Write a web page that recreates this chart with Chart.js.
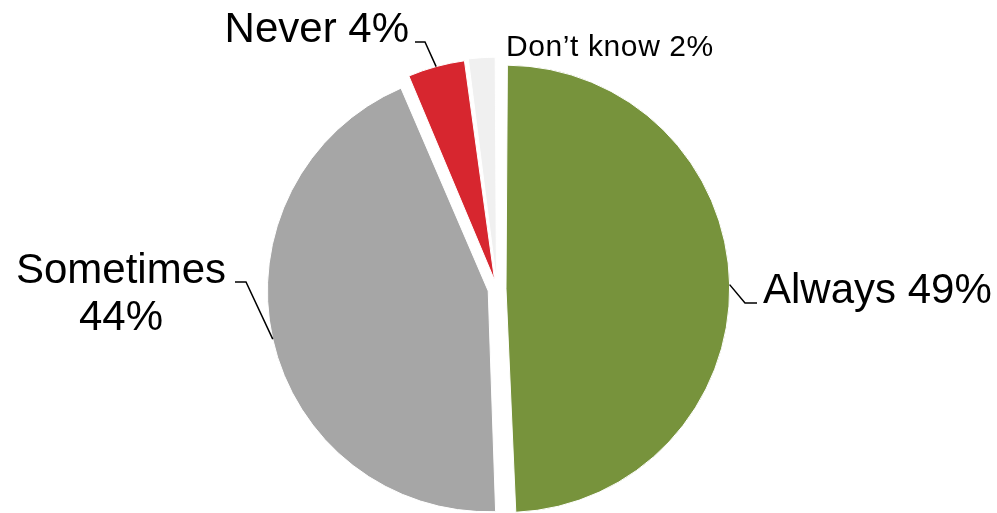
<!DOCTYPE html>
<html>
<head>
<meta charset="utf-8">
<script src="https://cdn.jsdelivr.net/npm/chart.js@4.4.1/dist/chart.umd.min.js"></script>
<style>
  body { margin: 0; background: #fff; }
  #wrap { width: 997px; height: 513px; }
</style>
</head>
<body>
<div id="wrap"><canvas id="chart" width="997" height="513"></canvas></div>
<script>
var categories = ["Always", "Sometimes", "Never", "Don\u2019t know"];
var shares = [49.4, 44.2, 4.3, 2.1];
var sliceColors = ["#77933C", "#A6A6A6", "#D7262F", "#F0F0F0"];

// where each label goes, plus the bend of its leader line
var labelSpots = [
  { x: 763, y: 303, align: "left", size: 42, elbow: [745, 303], end: 757 },
  { x: 121, y: 283, align: "center", size: 42, elbow: [246, 282], end: 235, wrap: true },
  { x: 409, y: 42, align: "right", size: 42, elbow: [425, 42], end: 415 },
  { x: 506, y: 56, align: "left", size: 30, spacing: "0.6px" }
];

var pieLabels = {
  id: "pieLabels",
  afterDatasetsDraw: function (chart) {
    var ctx = chart.ctx;
    var arcs = chart.getDatasetMeta(0).data;
    ctx.save();
    ctx.fillStyle = "#000";
    ctx.strokeStyle = "#000";
    ctx.lineWidth = 1.5;
    arcs.forEach(function (arc, i) {
      var spot = labelSpots[i];
      var p = arc.getProps(["x", "y", "startAngle", "endAngle", "outerRadius", "circumference"], true);
      var mid = (p.startAngle + p.endAngle) / 2;
      var shift = (arc.options.offset || 0) / 4;
      var fix = 1 - Math.sin(Math.min(Math.PI, p.circumference));
      var r = shift + p.outerRadius + shift * fix;
      var ax = p.x + Math.cos(mid) * r;
      var ay = p.y + Math.sin(mid) * r;
      if (spot.elbow) {
        ctx.beginPath();
        ctx.moveTo(ax, ay);
        ctx.lineTo(spot.elbow[0], spot.elbow[1]);
        ctx.lineTo(spot.end, spot.elbow[1]);
        ctx.stroke();
      }
      var pct = Math.round(shares[i]) + "%";
      ctx.font = spot.size + "px 'Liberation Sans', Arial, sans-serif";
      ctx.letterSpacing = spot.spacing || "0px";
      ctx.textAlign = spot.align;
      ctx.textBaseline = "alphabetic";
      if (spot.wrap) {
        ctx.fillText(categories[i], spot.x, spot.y);
        ctx.fillText(pct, spot.x, spot.y + 47);
      } else {
        ctx.fillText(categories[i] + " " + pct, spot.x, spot.y);
      }
    });
    ctx.restore();
  }
};

var ctx = document.getElementById("chart");
var mychart = new Chart(ctx, {
  type: "pie",
  data: {
    labels: categories,
    datasets: [
      {
        data: shares,
        backgroundColor: sliceColors,
        borderColor: "#fff",
        borderWidth: 1,
        offset: 36,
      },
    ],
  },
  options: {
    responsive: false,
    animation: false,
    radius: 215,
    layout: {
      padding: { top: 65, bottom: 0, left: 0, right: 3 },
    },
    plugins: {
      legend: { display: false },
      tooltip: { enabled: false },
    },
  },
  plugins: [pieLabels],
});
</script>
</body>
</html>
